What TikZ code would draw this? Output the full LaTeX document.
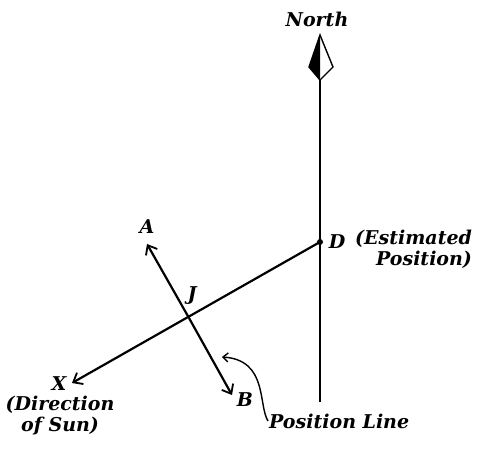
\documentclass[tikz,border=0pt]{standalone}
\usepackage{fontspec}
\setmainfont{DejaVu Serif}
\usepackage{tikz}
\usetikzlibrary{arrows.meta,positioning}

\begin{document}
\begin{tikzpicture}[x=1pt, y=-1pt,
  lbl/.style={font=\fontsize{19}{21}\selectfont\bfseries\itshape, inner sep=1pt},
  ln/.style={line width=2.2pt},
  arr/.style={ln, -{Straight Barb[length=8pt, width=13pt, line width=1.8pt]}},
  bendarr/.style={line width=1.4pt, -{Straight Barb[length=5pt, width=9pt]}}]
\useasboundingbox (0,0) rectangle (482,449);
% north line and needle
\coordinate (base) at (320,402);
\coordinate (tip) at (320,35);
\coordinate (nl) at (309,67);
\coordinate (nr) at (333,67);
\coordinate (nb) at (320,80);
\draw[ln] (base) -- (nb);
\fill (tip) -- (nl) -- (nb) -- cycle;
\draw[line width=1.4pt, line join=miter] (tip) -- (nr) -- (nb) -- (nl) -- cycle;
\node[lbl] (north) at (317,19) {North};
% estimated position
\coordinate (D) at (320,242);
\fill (D) circle (3pt);
\node[lbl] (dlbl) at (337,242) {D};
\node[lbl, anchor=north west, align=right] (est) at (354,229) {(Estimated\\Position)};
% direction of sun
\coordinate (xtip) at (72,383);
\draw[arr] (D) -- (xtip);
\node[lbl] (X) at (59,384) {X};
\node[lbl, align=center] (sun) at (60,416) {(Direction\\of Sun)};
% position line
\coordinate (atip) at (147,244);
\coordinate (btip) at (232,395);
\coordinate (mid) at (189,318);
\draw[arr] (mid) -- (atip);
\draw[arr] (mid) -- (btip);
\node[lbl] (A) at (147,227) {A};
\node[lbl] (B) at (245,400) {B};
\node[lbl] (J) at (192,296) {J};
\node[lbl, anchor=west] (pl) at (268,421) {Position Line};
\coordinate (hook) at (222,357);
\draw[bendarr] (pl.west) .. controls (258,405) and (268,360) .. (hook);
\end{tikzpicture}
\end{document}
